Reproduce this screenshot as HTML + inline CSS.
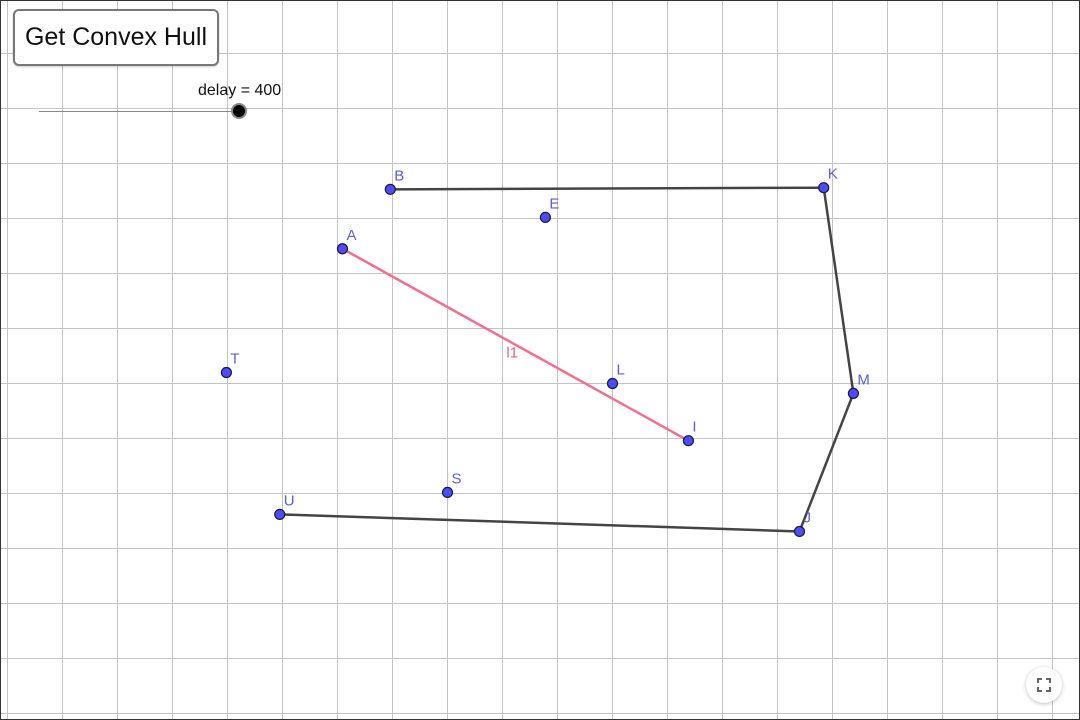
<!DOCTYPE html>
<html><head><meta charset="utf-8">
<style>
*{box-sizing:border-box;}
html,body{margin:0;padding:0;background:#fff;width:1080px;height:720px;overflow:hidden;}
body{position:relative;font-family:"Liberation Sans",sans-serif;}
#frame{position:absolute;left:0;top:0;width:1080px;height:720px;border:1px solid #333;}
#btn{position:absolute;left:13px;top:9px;width:206px;height:57px;border:2px solid #777;border-radius:6px;background:#fff;font-size:25px;color:#111;display:flex;align-items:center;justify-content:center;box-shadow:0 1px 2px rgba(0,0,0,.2);font-family:"Liberation Sans",sans-serif;}
#fs{position:absolute;left:1026px;top:667px;width:36px;height:36px;border-radius:50%;background:#fff;box-shadow:0 1px 4px rgba(0,0,0,.25);}
#chart{display:block;}
</style></head>
<body>
<svg id="chart" width="1080" height="720" style="position:absolute;left:0;top:0">
<g id="grid"></g>
<g id="hull"></g>
<g id="seg"></g>
<g id="pts"></g>
<g>
<line x1="39" y1="111.5" x2="239" y2="111.5" stroke="#888" stroke-width="1"/>
<circle cx="239" cy="111" r="8" fill="#888"/>
<circle cx="239" cy="111" r="6" fill="#000"/>
<text x="198" y="95" font-size="16" fill="#111" font-family="Liberation Sans, sans-serif">delay = 400</text>
</g>
</svg>
<div id="frame"></div>
<div id="btn">Get Convex Hull</div>
<div id="fs">
<svg width="36" height="36"><path d="M12 16V12H16M20 12H24V16M24 20V24H20M16 24H12V20" fill="none" stroke="#666" stroke-width="2"/></svg>
</div>
<script>
const pointNames=["A","B","E","K","T","L","M","I","S","U","J"];
const pointX=[6.09,6.96,9.78,14.84,3.98,11.0,15.38,12.38,8.0,4.95,14.4];
const pointY=[8.45,9.53,9.02,9.56,6.20,6.00,5.82,4.96,4.02,3.62,3.31];
const hullOrder=["B","K","M","J","U"];
const segmentEnds=["A","I"];
const segmentLabel="l1";
const NS="http://www.w3.org/2000/svg";
const X0=7.5,Y0=713.5,U=55;
function sx(v){return X0+v*U;}
function sy(v){return Y0-v*U;}
function mk(t,a,p){const e=document.createElementNS(NS,t);for(const k in a)e.setAttribute(k,a[k]);p.appendChild(e);return e;}
const grid=document.getElementById('grid');
for(let i=0;i<=19;i++){const l=mk('line',{x1:sx(i),x2:sx(i),y1:0,y2:720,stroke:'#c4c4c4','stroke-width':1},grid);

}
for(let j=0;j<=12;j++){const l=mk('line',{x1:0,x2:1080,y1:sy(j),y2:sy(j),stroke:'#c4c4c4','stroke-width':1},grid);

}
function idx(n){return pointNames.indexOf(n);}
const hull=document.getElementById('hull');
for(let i=0;i<hullOrder.length-1;i++){const a=idx(hullOrder[i]),b=idx(hullOrder[i+1]);
const l=mk('line',{x1:sx(pointX[a]),y1:sy(pointY[a]),x2:sx(pointX[b]),y2:sy(pointY[b]),stroke:'#444','stroke-width':2.5},hull);

}
const seg=document.getElementById('seg');
{const a=idx(segmentEnds[0]),b=idx(segmentEnds[1]);
const l=mk('line',{x1:sx(pointX[a]),y1:sy(pointY[a]),x2:sx(pointX[b]),y2:sy(pointY[b]),stroke:'#f0708f','stroke-width':2.5},seg);


const t=mk('text',{x:(sx(pointX[a])+sx(pointX[b]))/2-9,y:(sy(pointY[a])+sy(pointY[b]))/2+13,'font-size':15,fill:'#e06080','font-family':'Liberation Sans, sans-serif'},seg);
t.textContent=segmentLabel;

}
const pts=document.getElementById('pts');
pointNames.forEach((n,i)=>{const x=sx(pointX[i]),y=sy(pointY[i]);
const c=mk('circle',{cx:x,cy:y,r:5,fill:'#4d4dff',stroke:'#1a1a33','stroke-width':1.2},pts);


const t=mk('text',{x:x+4,y:y-9,'font-size':15,fill:'#5f5fd0','font-family':'Liberation Sans, sans-serif'},pts);
t.textContent=n;

});
</script>
</body></html>
